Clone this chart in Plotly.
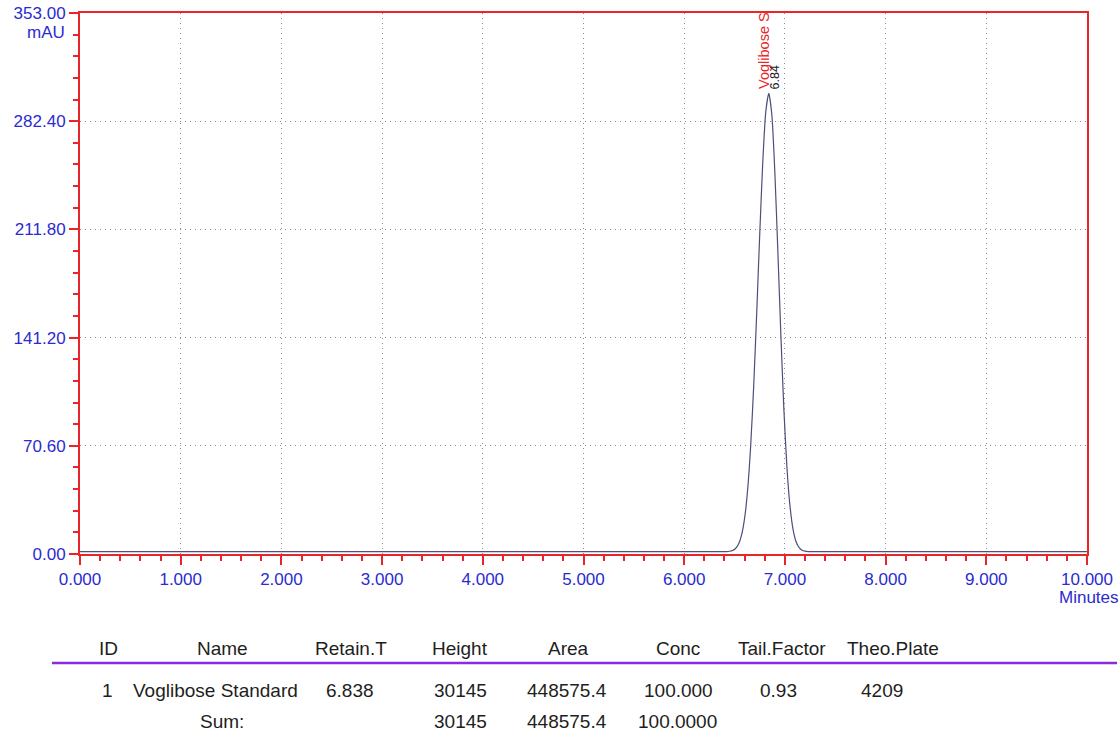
import plotly.graph_objects as go

# ---- data ----
time_min = [0.00, 6.42, 6.45, 6.48, 6.51, 6.54, 6.57, 6.60, 6.63, 6.66, 6.69, 6.72, 6.75, 6.78, 6.81,
            6.84, 6.87, 6.90, 6.93, 6.96, 6.99, 7.02, 7.05, 7.08, 7.11, 7.14, 7.17, 7.20, 7.23, 7.26, 10.00]
absorb_mau = [1.5, 1.6, 1.8, 2.3, 3.6, 6.5, 12.5, 23.4, 42.0, 70.3, 109.3, 157.1, 208.6, 255.5, 288.5,
              300.5, 286.8, 249.4, 197.6, 142.8, 94.2, 56.8, 31.6, 16.4, 8.2, 4.3, 2.5, 1.85, 1.6, 1.5, 1.5]

peak_rt = 6.84
peak_label = "Voglibose S"

y_ticks = [0.0, 70.6, 141.2, 211.8, 282.4, 353.0]
y_ticktext = ["0.00", "70.60", "141.20", "211.80", "282.40", "353.00"]
x_ticks = [0, 1, 2, 3, 4, 5, 6, 7, 8, 9, 10]
x_ticktext = ["0.000", "1.000", "2.000", "3.000", "4.000", "5.000", "6.000", "7.000", "8.000", "9.000", "10.000"]

table_headers = ["ID", "Name", "Retain.T", "Height", "Area", "Conc", "Tail.Factor", "Theo.Plate"]
row1 = ["1", "Voglibose Standard", "6.838", "30145", "448575.4", "100.000", "0.93", "4209"]
sum_row = ["", "Sum:", "", "30145", "448575.4", "100.0000", "", ""]

# ---- layout constants ----
W, H = 1120, 732
L, R, T, B = 80, 33, 13, 178
plot_w = W - L - R
plot_h = H - T - B

def px_x(px):
    return (px - L) / plot_w

def px_y(py):
    return (H - B - py) / plot_h

blue = "#2b2bd0"
red = "#e8262a"
txt_col = "#1e1e1e"
font_family = "Liberation Sans, Arial, sans-serif"
tick_size = 17
table_size = 19

fig = go.Figure()
fig.add_trace(go.Scatter(x=time_min, y=absorb_mau, mode="lines",
                         line=dict(color="#4b5078", width=1.2, shape="spline", smoothing=0.6),
                         hoverinfo="skip", showlegend=False))

axis_common = dict(showline=True, mirror=True, linecolor=red, linewidth=2,
                   ticks="outside", ticklen=9, tickwidth=2, tickcolor=red,
                   showgrid=True, gridcolor="#8c8c8c", griddash="1px,4px", gridwidth=1,
                   zeroline=False, automargin=False,
                   tickfont=dict(color=blue, size=tick_size, family=font_family))

fig.update_layout(
    width=W, height=H,
    margin=dict(l=L, r=R, t=T, b=B, autoexpand=False),
    paper_bgcolor="white", plot_bgcolor="white",
    font=dict(family=font_family, color=blue, size=tick_size),
    xaxis=dict(range=[0, 10], tickvals=x_ticks, ticktext=x_ticktext,
               minor=dict(dtick=0.2, tick0=0, ticks="outside", ticklen=5, tickwidth=2,
                          tickcolor=red, showgrid=False),
               **axis_common),
    yaxis=dict(range=[0, 353], tickvals=y_ticks, ticktext=y_ticktext,
               minor=dict(dtick=14.12, tick0=0, ticks="outside", ticklen=5, tickwidth=2,
                          tickcolor=red, showgrid=False),
               **axis_common),
)

annotations = []
# axis unit labels
annotations.append(dict(x=px_x(67), y=px_y(32), xref="paper", yref="paper", text="mAU",
                        showarrow=False, xanchor="right", yanchor="middle",
                        font=dict(color=blue, size=tick_size, family=font_family)))
annotations.append(dict(x=px_x(1121), y=px_y(597), xref="paper", yref="paper", text="Minutes",
                        showarrow=False, xanchor="right", yanchor="middle",
                        font=dict(color=blue, size=tick_size, family=font_family)))
# peak labels
annotations.append(dict(x=peak_rt - 0.055, y=302, xref="x", yref="y", text=peak_label,
                        showarrow=False, textangle=-90, xanchor="center", yanchor="bottom",
                        font=dict(color=red, size=14.5, family=font_family)))
annotations.append(dict(x=peak_rt + 0.065, y=302, xref="x", yref="y", text=f"{peak_rt:.2f}",
                        showarrow=False, textangle=-90, xanchor="center", yanchor="bottom",
                        font=dict(color="#222222", size=12.5, family=font_family)))

# table
col_x = [108, 222, 351, 460, 568, 678, 782, 893]
row1_x = [107, 215, 350, 460, 567, 678, 778, 882]
for cx, txt in zip(col_x, table_headers):
    annotations.append(dict(x=px_x(cx), y=px_y(648), xref="paper", yref="paper", text=txt,
                            showarrow=False, xanchor="center", yanchor="middle",
                            font=dict(color=txt_col, size=table_size, family=font_family)))
for cx, txt in zip(row1_x, row1):
    annotations.append(dict(x=px_x(cx), y=px_y(691), xref="paper", yref="paper", text=txt,
                            showarrow=False, xanchor="center", yanchor="middle",
                            font=dict(color=txt_col, size=table_size, family=font_family)))
sum_x = [107, 222, 350, 460, 567, 677, 778, 882]
for cx, txt in zip(sum_x, sum_row):
    if txt:
        annotations.append(dict(x=px_x(cx), y=px_y(721), xref="paper", yref="paper", text=txt,
                                showarrow=False, xanchor="center", yanchor="middle",
                                font=dict(color=txt_col, size=table_size, family=font_family)))
fig.update_layout(annotations=annotations)

fig.add_shape(type="line", xref="paper", yref="paper",
              x0=px_x(52), x1=px_x(1117), y0=px_y(663), y1=px_y(663),
              line=dict(color="#8a2be2", width=2.5))

fig.write_html("out.html", config={"displayModeBar": False},
               post_script="document.body.style.margin='0';document.body.style.overflow='hidden';")
